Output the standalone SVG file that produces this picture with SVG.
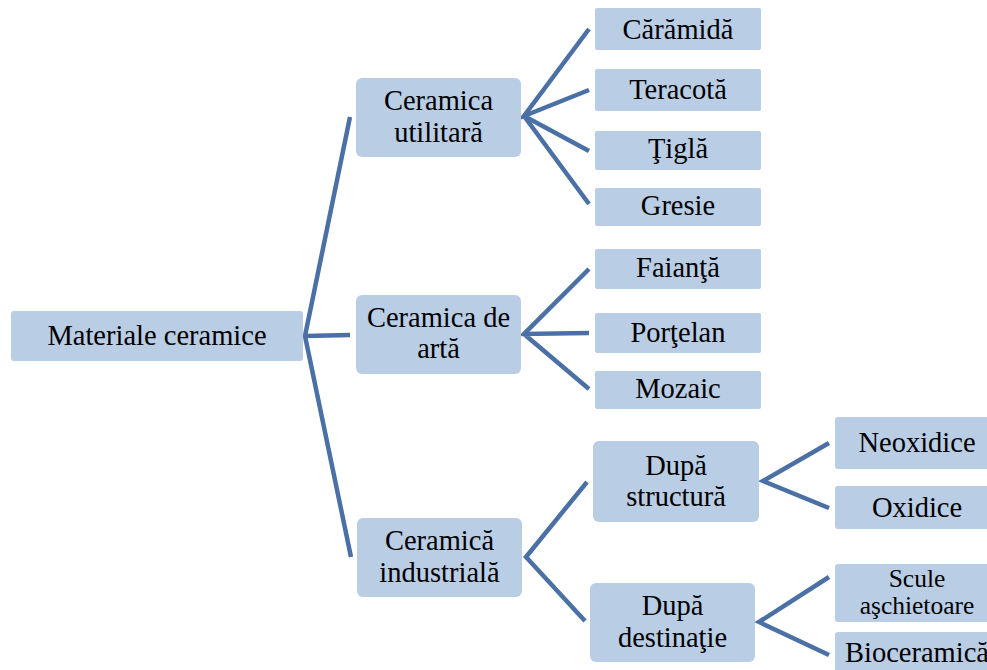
<svg xmlns="http://www.w3.org/2000/svg" width="987" height="670" viewBox="0 0 987 670">
<style>
.box{fill:#B9CDE5}
.t{font-size:28.5px;fill:#000;text-anchor:middle}
.s{font-size:25.5px}
.c{fill:none;stroke:#4A70A5;stroke-width:4.5;stroke-linejoin:miter}
</style>
<rect width="987" height="670" fill="#fff"/>
<g id="connectors">
<path class="c" d="M350,117 L305,336 L351,557 M305,336 L350,335"/>
<path class="c" d="M589,29 L524,116 L589,90 M524,116 L589,151 M524,116 L589,204"/>
<path class="c" d="M589,269 L524,334 L589,333 M524,334 L589,389"/>
<path class="c" d="M587,482 L526,557 L585,621"/>
<path class="c" d="M829,443 L763,481 L829,508"/>
<path class="c" d="M829,577 L759,622 L829,655"/>
</g>
<g font-family="'Liberation Serif', 'DejaVu Serif', serif">
<g id="root"><rect class="box" x="11" y="311" width="292" height="50" rx="3"/><text class="t" x="157" y="345">Materiale ceramice</text></g>
<g id="utilitara"><rect class="box" x="356" y="78" width="165" height="79" rx="6"/><text class="t" x="438.5" y="110">Ceramica</text><text class="t" x="438.5" y="142">utilitară</text></g>
<g id="arta"><rect class="box" x="356" y="295" width="165" height="79" rx="6"/><text class="t" x="438.5" y="327">Ceramica de</text><text class="t" x="438.5" y="358">artă</text></g>
<g id="industriala"><rect class="box" x="357" y="518" width="165" height="79" rx="6"/><text class="t" x="439.5" y="550">Ceramică</text><text class="t" x="439.5" y="582">industrială</text></g>
<g id="caramida"><rect class="box" x="595" y="8" width="166" height="42" rx="2"/><text class="t" x="678" y="39">Cărămidă</text></g>
<g id="teracota"><rect class="box" x="595" y="69" width="166" height="42" rx="2"/><text class="t" x="678" y="99">Teracotă</text></g>
<g id="tigla"><rect class="box" x="595" y="131" width="166" height="39" rx="2"/><text class="t" x="678" y="158">Ţiglă</text></g>
<g id="gresie"><rect class="box" x="595" y="188" width="166" height="38" rx="2"/><text class="t" x="678" y="215">Gresie</text></g>
<g id="faianta"><rect class="box" x="595" y="249" width="166" height="40" rx="2"/><text class="t" x="678" y="277">Faianţă</text></g>
<g id="portelan"><rect class="box" x="595" y="313" width="166" height="40" rx="2"/><text class="t" x="678" y="342">Porţelan</text></g>
<g id="mozaic"><rect class="box" x="595" y="371" width="166" height="38" rx="2"/><text class="t" x="678" y="398">Mozaic</text></g>
<g id="structura"><rect class="box" x="593" y="441" width="166" height="81" rx="6"/><text class="t" x="676" y="475">După</text><text class="t" x="676" y="506">structură</text></g>
<g id="destinatie"><rect class="box" x="590" y="583" width="165" height="79" rx="6"/><text class="t" x="672.5" y="615">După</text><text class="t" x="672.5" y="647">destinaţie</text></g>
<g id="neoxidice"><rect class="box" x="835" y="417" width="165" height="52" rx="3"/><text class="t" x="917" y="452">Neoxidice</text></g>
<g id="oxidice"><rect class="box" x="835" y="486" width="165" height="43" rx="3"/><text class="t" x="917" y="517">Oxidice</text></g>
<g id="scule"><rect class="box" x="835" y="564" width="165" height="58" rx="3"/><text class="t s" x="917" y="587">Scule</text><text class="t s" x="917" y="614">aşchietoare</text></g>
<g id="bioceramica"><rect class="box" x="835" y="632" width="165" height="50" rx="3"/><text class="t" x="917" y="662">Bioceramică</text></g>
</g>
</svg>
